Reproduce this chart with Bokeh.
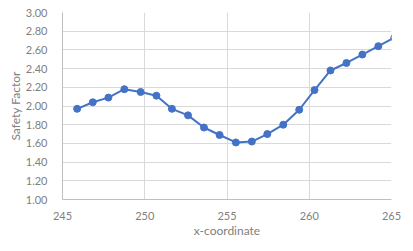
from bokeh.plotting import figure
from bokeh.models import Range1d, FixedTicker, NumeralTickFormatter
from bokeh.embed import file_html
from bokeh.resources import INLINE

x_coord = [245.89, 246.84, 247.79, 248.76, 249.75, 250.71, 251.65, 252.63, 253.60, 254.55,
           255.54, 256.51, 257.45, 258.42, 259.39, 260.32, 261.29, 262.26, 263.23, 264.20, 265.17]
safety = [1.97, 2.04, 2.09, 2.18, 2.15, 2.11, 1.97, 1.90, 1.77, 1.69,
          1.61, 1.62, 1.70, 1.80, 1.96, 2.17, 2.38, 2.46, 2.55, 2.64, 2.73]
x_ticks = [245, 250, 255, 260, 265]
y_ticks = [1.0, 1.2, 1.4, 1.6, 1.8, 2.0, 2.2, 2.4, 2.6, 2.8, 3.0]

FONT = "Lato"
GRAY = "#808080"
COLOR = "#4472C4"

p = figure(width=413, height=251, output_backend="svg", toolbar_location=None,
           x_range=Range1d(245, 265), y_range=Range1d(1.0, 3.0),
           min_border_left=62, min_border_right=22, min_border_top=12, min_border_bottom=52)
p.outline_line_color = None
p.background_fill_color = "white"
p.border_fill_color = "white"

p.line(x_coord, safety, line_color=COLOR, line_width=2)
p.scatter(x_coord, safety, size=7, fill_color=COLOR, line_color=COLOR)

for ax in (p.xaxis[0], p.yaxis[0]):
    ax.axis_line_color = "#bfbfbf"
    ax.major_tick_line_color = None
    ax.minor_tick_line_color = None
    ax.major_label_text_color = GRAY
    ax.major_label_text_font = FONT
    ax.major_label_text_font_size = "11px"
    ax.axis_label_text_color = GRAY
    ax.axis_label_text_font = FONT
    ax.axis_label_text_font_size = "12px"
    ax.axis_label_text_font_style = "normal"

p.xaxis.ticker = FixedTicker(ticks=x_ticks)
p.yaxis.ticker = FixedTicker(ticks=y_ticks)
p.yaxis.formatter = NumeralTickFormatter(format="0.00")
p.xaxis.axis_label = "x-coordinate"
p.yaxis.axis_label = "Safety Factor"
p.xaxis.major_label_standoff = 6
p.yaxis.major_label_standoff = 9
p.xaxis.axis_label_standoff = 0
p.yaxis.axis_label_standoff = 0

p.xgrid.grid_line_color = "#d9d9d9"
p.ygrid.grid_line_color = "#d9d9d9"

open("out.html", "w").write(file_html(p, INLINE))
